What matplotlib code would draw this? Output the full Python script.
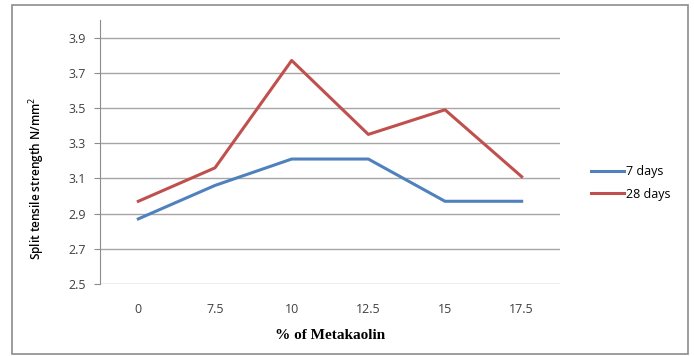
import matplotlib
matplotlib.use('Agg')
import matplotlib.pyplot as plt
from matplotlib.patches import Rectangle

# split tensile strength vs metakaolin replacement
metakaolin = ['0', '7.5', '10', '12.5', '15', '17.5']
days_7 = [2.87, 3.06, 3.21, 3.21, 2.97, 2.97]
days_28 = [2.97, 3.16, 3.77, 3.35, 3.49, 3.11]
y_ticks = [2.5, 2.7, 2.9, 3.1, 3.3, 3.5, 3.7, 3.9]

W, H = 694, 356
fig = plt.figure(figsize=(W / 100, H / 100), dpi=100)
plt.rcParams['font.family'] = ['Open Sans', 'DejaVu Sans']

# chart frame
fig.patches.append(Rectangle((12 / W, 1 - 354 / H), 676 / W, 349 / H,
                             transform=fig.transFigure, fill=False,
                             edgecolor='#8c8c8c', linewidth=1.2))

ax = fig.add_axes([100 / W, 1 - 284 / H, 460 / W, 264 / H])
x = range(len(metakaolin))
ax.plot(x, days_7, color='#4F81BD', linewidth=2.2, label='7 days')
ax.plot(x, days_28, color='#C0504D', linewidth=2.2, label='28 days')

ax.set_xlim(-0.5, len(metakaolin) - 0.5)
ax.set_ylim(2.5, 4.0)
ax.set_yticks(y_ticks)
ax.set_yticklabels([f'{v:.1f}' for v in y_ticks], fontsize=9, color='#404040')
ax.set_xticks(list(x))
ax.set_xticklabels(metakaolin, fontsize=9, color='#404040')
ax.tick_params(axis='x', length=0, pad=14)
ax.tick_params(axis='y', length=4, color='#8c8c8c', pad=6)
ax.grid(axis='y', color='#a6a6a6', linewidth=1)
ax.set_axisbelow(True)
for s in ['top', 'right', 'bottom']:
    ax.spines[s].set_visible(False)
ax.spines['left'].set_color('#8c8c8c')

fig.text(37 / W, 1 - 178 / H, 'Split tensile strength N/mm$^2$', rotation=90,
         ha='center', va='center', fontsize=8.5, fontweight='semibold')
ax.set_xlabel('% of Metakaolin', fontsize=11, fontweight='bold',
              family='Liberation Serif', labelpad=9)

ax.legend(loc='upper left', bbox_to_anchor=(580 / W, 1 - 154 / H),
          bbox_transform=fig.transFigure, frameon=False, fontsize=9,
          handlelength=2.6, handletextpad=0.15, labelspacing=0.75)

fig.savefig('out.png', dpi=100)
